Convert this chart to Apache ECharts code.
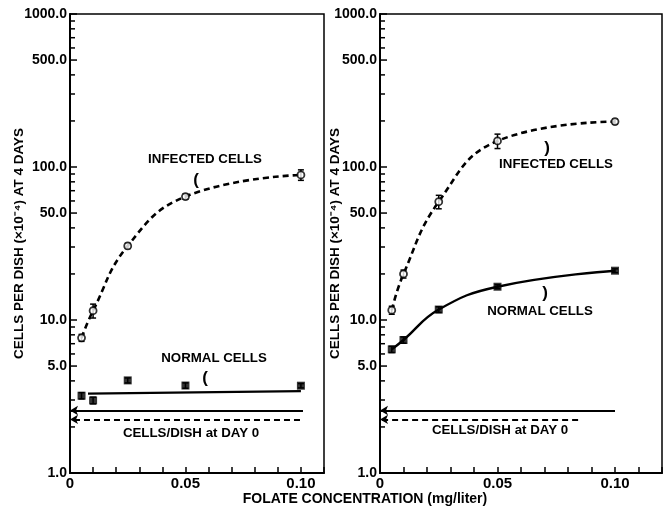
<!DOCTYPE html>
<html><head><meta charset="utf-8">
<script src="https://cdn.jsdelivr.net/npm/echarts@6/dist/echarts.min.js"></script>
<style>html,body{margin:0;padding:0;background:#fff}#c{width:665px;height:510px}</style>
</head><body><div id="c"></div>
<script>
// ---- data ----
const concentrations = [0.005, 0.01, 0.025, 0.05, 0.10];
const leftInfected = [7.65, 11.5, 30.5, 64.1, 88.8];
const leftInfectedErr = [0.4, 1.2, 1.2, 2.5, 7];
const leftNormal = [3.2, 2.98, 4.03, 3.73, 3.72];
const leftNormalErr = [0.15, 0.15, 0.15, 0.15, 0.12];
const leftNormalFitX = [0.0078, 0.10];
const leftNormalFitY = [3.3, 3.43];
const rightInfected = [11.6, 20.0, 59.3, 148, 198];
const rightInfectedErr = [0.7, 1.2, 6, 16, 7];
const rightNormal = [6.43, 7.4, 11.7, 16.5, 21.0];
const rightNormalErr = [0.3, 0.35, 0.5, 0.5, 0.6];
const day0Solid = 2.56;
const day0Dashed = 2.24;
const leftDay0End = [0.1009, 0.0996];   // solid, dashed
const rightDay0End = [0.100, 0.0843];
const yTickValues = [1, 5, 10, 50, 100, 500, 1000];
const yTickLabels = ['1.0', '5.0', '10.0', '50.0', '100.0', '500.0', '1000.0'];
const yMinorTicks = [2,3,4,6,7,8,9,20,30,40,60,70,80,90,200,300,400,600,700,800,900];
const xTickValues = [0, 0.05, 0.10];
const xTickLabels = ['0', '0.05', '0.10'];
const yTitle = 'CELLS PER DISH (×10⁻⁴) AT 4 DAYS';
const xTitle = 'FOLATE CONCENTRATION (mg/liter)';

const FONT = 'Liberation Sans, Arial, sans-serif';
const pairs = (xs, ys) => xs.map((x, i) => [x, ys[i]]);
const errs = (ys, es) => concentrations.map((x, i) => [x, ys[i] - es[i], ys[i] + es[i]]);

function errRender(params, api) {
  const x = api.value(0), lo = api.value(1), hi = api.value(2);
  const p1 = api.coord([x, lo]), p2 = api.coord([x, hi]);
  const w = 3, st = {stroke: '#000', lineWidth: 1.5};
  return {type: 'group', children: [
    {type: 'line', shape: {x1: p1[0], y1: p1[1], x2: p2[0], y2: p2[1]}, style: st},
    {type: 'line', shape: {x1: p1[0]-w, y1: p1[1], x2: p1[0]+w, y2: p1[1]}, style: st},
    {type: 'line', shape: {x1: p2[0]-w, y1: p2[1], x2: p2[0]+w, y2: p2[1]}, style: st}
  ]};
}
function minorTickRender(params, api) {
  const p = api.coord([api.value(0), api.value(1)]);
  return {type: 'group', children: [
    {type: 'rect', shape: {x: p[0], y: p[1] - 0.75, width: 5, height: 1.5}, style: {fill: '#000'}}
  ]};
}
function majorTickRender(params, api) {
  const p = api.coord([api.value(0), api.value(1)]);
  return {type: 'group', children: [
    {type: 'rect', shape: {x: p[0], y: p[1] - 0.75, width: 7, height: 1.5}, style: {fill: '#000'}},
    {type: 'text', x: p[0] - 3, y: p[1],
      style: {text: yTickLabels[params.dataIndex], textAlign: 'right', textVerticalAlign: 'middle',
        font: 'bold 14px ' + FONT, fill: '#000'}}
  ]};
}

function panelSeries(idx, inf, infErr, nor, norErr, norLine, day0End) {
  const base = {xAxisIndex: idx, yAxisIndex: idx};
  return [
    Object.assign({type: 'line', data: pairs(concentrations, inf), smooth: 0.45, symbol: 'none',
      lineStyle: {color: '#000', width: 2.6, type: [6, 4]}, z: 2, silent: true}, base),
    Object.assign({type: 'line', data: norLine, smooth: idx === 1 ? 0.45 : false, symbol: 'none',
      lineStyle: {color: '#000', width: 2.4, type: 'solid'}, z: 2, silent: true}, base),
    Object.assign({type: 'custom', renderItem: errRender, data: errs(inf, infErr), encode: {x: 0, y: [1, 2]}, z: 3}, base),
    Object.assign({type: 'custom', renderItem: errRender, data: errs(nor, norErr), encode: {x: 0, y: [1, 2]}, z: 3}, base),
    Object.assign({type: 'scatter', data: pairs(concentrations, inf), symbol: 'circle', symbolSize: 7,
      itemStyle: {color: '#fff', borderColor: '#000', borderWidth: 1.8}, z: 4}, base),
    Object.assign({type: 'scatter', data: pairs(concentrations, nor), symbol: 'rect', symbolSize: 8,
      itemStyle: {color: '#000'}, z: 4}, base),
    Object.assign({type: 'line', data: [], markLine: {silent: true, symbol: ['none', 'arrow'], symbolSize: [7, 8],
      label: {show: false}, animation: false,
      data: [
        [{coord: [day0End[0], day0Solid], lineStyle: {type: 'solid', color: '#000', width: 2.2}}, {coord: [0, day0Solid]}],
        [{coord: [day0End[1], day0Dashed], lineStyle: {type: [6, 4], color: '#000', width: 2.2}}, {coord: [0, day0Dashed]}]
      ]}}, base),
    Object.assign({type: 'custom', renderItem: minorTickRender, data: yMinorTicks.map(v => [0, v]), encode: {x: 0, y: 1}, z: 5, silent: true}, base),
    Object.assign({type: 'custom', renderItem: majorTickRender, data: yTickValues.map(v => [0, v]), encode: {x: 0, y: 1}, z: 5, silent: true}, base)
  ];
}

function xAxis(idx, max) {
  return {type: 'value', gridIndex: idx, min: 0, max: max, interval: 0.01,
    axisLine: {lineStyle: {color: '#000', width: 2}},
    axisTick: {inside: true, length: 6, lineStyle: {color: '#000', width: 1.5}},
    splitLine: {show: false},
    axisLabel: {color: '#000', fontFamily: FONT, fontWeight: 'bold', fontSize: 15, margin: 3,
      formatter: v => { const i = xTickValues.findIndex(t => Math.abs(t - v) < 1e-9); return i >= 0 ? xTickLabels[i] : ''; }}};
}
function yAxis(idx, gap) {
  return {type: 'log', logBase: 10, gridIndex: idx, min: 1, max: 1000,
    axisLine: {lineStyle: {color: '#000', width: 2}},
    axisTick: {show: false}, axisLabel: {show: false}, splitLine: {show: false}, minorTick: {show: false},
    name: yTitle, nameLocation: 'middle', nameRotate: 90, nameGap: gap,
    nameTextStyle: {color: '#000', fontFamily: FONT, fontWeight: 'bold', fontSize: 13.5}};
}

const txt = (x, y, t, size) => ({type: 'text', x: x, y: y,
  style: {text: t, textAlign: 'center', textVerticalAlign: 'middle', font: 'bold ' + (size || 13.3) + 'px ' + FONT, fill: '#000'}});

const chart = echarts.init(document.getElementById('c'), null, {renderer: 'canvas'});
chart.setOption({
  animation: false,
  backgroundColor: '#fff',
  grid: [
    {left: 70, top: 14, width: 254, height: 459, show: true, borderColor: '#000', borderWidth: 1.5, backgroundColor: 'transparent'},
    {left: 380, top: 14, width: 282, height: 459, show: true, borderColor: '#000', borderWidth: 1.5, backgroundColor: 'transparent'}
  ],
  xAxis: [xAxis(0, 0.11), xAxis(1, 0.12)],
  yAxis: [yAxis(0, 44), yAxis(1, 38)],
  series: [].concat(
    panelSeries(0, leftInfected, leftInfectedErr, leftNormal, leftNormalErr, pairs(leftNormalFitX, leftNormalFitY), leftDay0End),
    panelSeries(1, rightInfected, rightInfectedErr, rightNormal, rightNormalErr, pairs(concentrations, rightNormal), rightDay0End)
  ),
  graphic: [
    txt(205, 159, 'INFECTED CELLS'),
    txt(196, 180, '(', 17),
    txt(214, 358, 'NORMAL CELLS'),
    txt(205, 378, '(', 17),
    txt(191, 433, 'CELLS/DISH at DAY 0'),
    txt(556, 164, 'INFECTED CELLS'),
    txt(547, 148, ')', 17),
    txt(540, 311, 'NORMAL CELLS'),
    txt(545, 293, ')', 17),
    txt(500, 430, 'CELLS/DISH at DAY 0'),
    txt(365, 499, xTitle, 14)
  ]
});
</script></body></html>
